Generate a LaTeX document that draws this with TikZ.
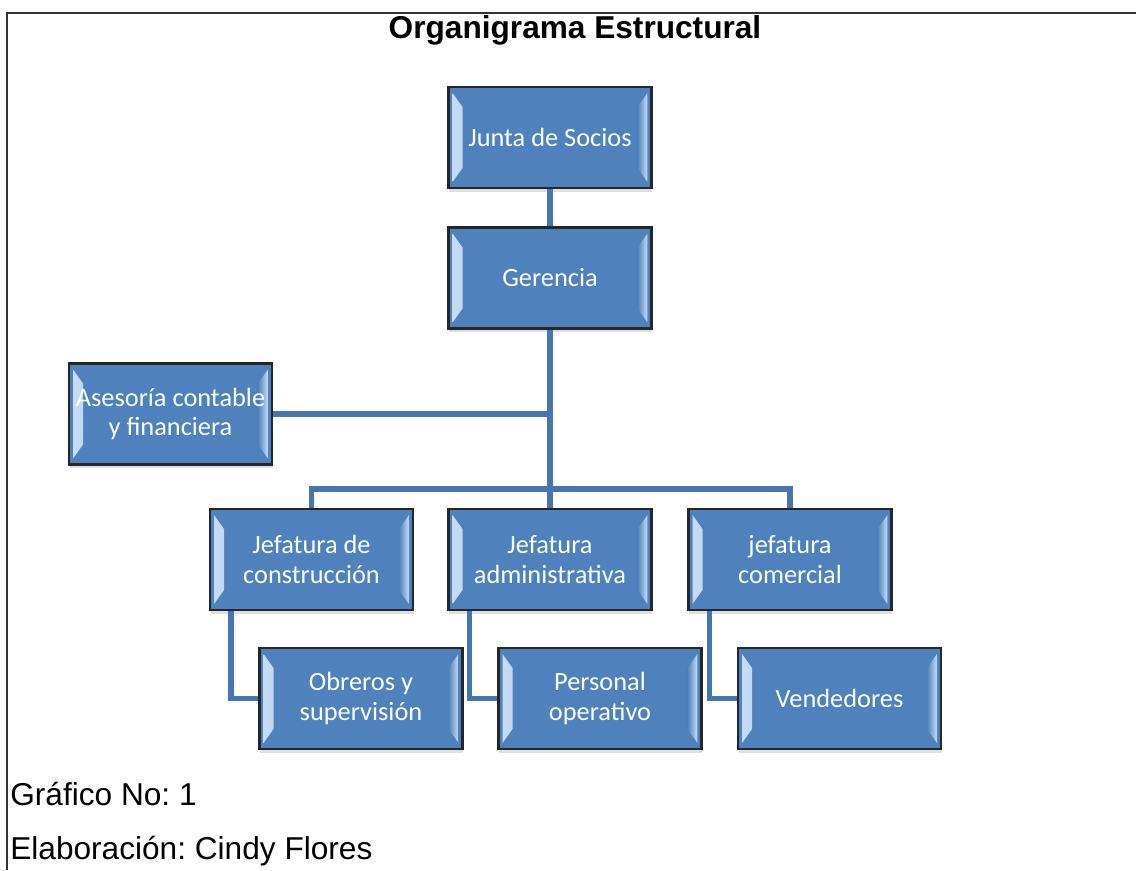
\documentclass[tikz,border=0pt]{standalone}
\usepackage{fontspec}
\setmainfont{Liberation Sans}
\newfontfamily\cajafont{Carlito}
\frenchspacing
\usetikzlibrary{positioning, calc, shadows}
\definecolor{cajaazul}{RGB}{79, 129, 189}
\definecolor{lineaazul}{RGB}{72, 117, 177}
\definecolor{bisel}{RGB}{200, 222, 246}

\tikzset{
  caja/.style={draw=black!85, line width=1.3pt, fill=cajaazul, text=white,
    minimum width=4.06cm, minimum height=2.02cm, inner sep=0pt, align=center,
    font=\cajafont\fontsize{15}{17}\selectfont,
    drop shadow={opacity=0.25, shadow xshift=0.5pt, shadow yshift=-2pt},
    path picture={
      \shade[left color=bisel, right color=cajaazul]
        ([shift={(4,6)}]path picture bounding box.north west) -- ([shift={(14,20)}]path picture bounding box.north west)
        -- ([shift={(14,-20)}]path picture bounding box.south west) -- ([shift={(4,-6)}]path picture bounding box.south west) -- cycle;
      \shade[right color=bisel, left color=cajaazul]
        ([shift={(-4,6)}]path picture bounding box.north east) -- ([shift={(-14,20)}]path picture bounding box.north east)
        -- ([shift={(-14,-20)}]path picture bounding box.south east) -- ([shift={(-4,-6)}]path picture bounding box.south east) -- cycle;
    }},
  conn/.style={draw=lineaazul, line width=3pt},
  pie/.style={anchor=base west, font=\fontsize{18}{20}\selectfont, inner sep=0pt}
}

\begin{document}
\begin{tikzpicture}[x=0.02cm, y=-0.02cm]
  \useasboundingbox (0,0) rectangle (1136,870);
  % Marco
  \draw[line width=1pt, black!80] (7,870) -- (7,13) -- (1136,13);
  \node[font=\bfseries\fontsize{18}{20}\selectfont] (titulo) at (575,30) {Organigrama Estructural};

  % Cajas
  \node[caja] (junta) at (550,137.5) {Junta de Socios};
  \node[caja] (geren) at (550,278) {Gerencia};
  \node[caja] (asesor) at (170.5,414) {Asesoría contable\\y financiera};
  \node[caja] (jcons) at (311.5,559.5) {Jefatura de\\construcción};
  \node[caja] (jadm) at (550,559.5) {Jefatura\\administrativa};
  \node[caja] (jcom) at (790,559.5) {jefatura\\comercial};
  \node[caja] (obreros) at (361,698.5) {Obreros y\\supervisión};
  \node[caja] (person) at (600,698.5) {Personal\\operativo};
  \node[caja] (vend) at (839.5,698.5) {Vendedores};

  % Conectores
  \coordinate (barra) at (550,489);
  \draw[conn] (junta.south) -- (geren.north);
  \draw[conn] (geren.south) -- (jadm.north);
  \draw[conn] (asesor.east) -- (asesor.east -| geren.south);
  \draw[conn] (jcons.north) |- (barra) -| (jcom.north);
  \foreach \jefe/\sub in {jcons/obreros, jadm/person, jcom/vend} {
    \draw[conn] ([xshift=0.44cm]\jefe.south west) |- (\sub.west);
  }

  % Pie
  \node[pie] (grafico) at (10,805) {Gráfico No: 1};
  \node[pie] (elab) at (10,859) {Elaboración: Cindy Flores};
\end{tikzpicture}
\end{document}
